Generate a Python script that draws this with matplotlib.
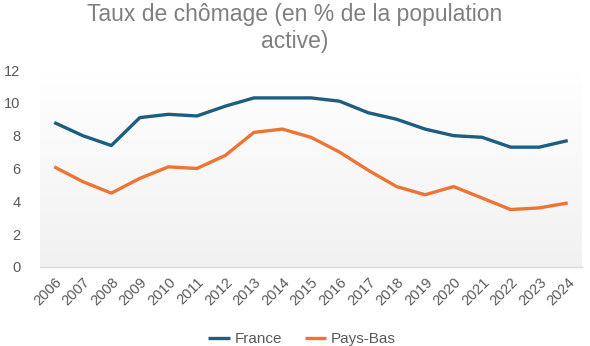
import matplotlib
matplotlib.use("Agg")
import matplotlib.pyplot as plt
import numpy as np
from matplotlib.colors import LinearSegmentedColormap

plt.rcParams['font.family'] = ['Liberation Sans', 'DejaVu Sans']

years = ["2006", "2007", "2008", "2009", "2010", "2011", "2012", "2013", "2014", "2015",
         "2016", "2017", "2018", "2019", "2020", "2021", "2022", "2023", "2024"]
france = [8.8, 8.0, 7.4, 9.1, 9.3, 9.2, 9.8, 10.3, 10.3, 10.3,
          10.1, 9.4, 9.0, 8.4, 8.0, 7.9, 7.3, 7.3, 7.7]
pays_bas = [6.1, 5.2, 4.5, 5.4, 6.1, 6.0, 6.8, 8.2, 8.4, 7.9,
            7.0, 5.9, 4.9, 4.4, 4.9, 4.2, 3.5, 3.6, 3.9]

fig = plt.figure(figsize=(5.9, 3.46), dpi=100)
ax = fig.add_axes([40/590, 1-267/346, 542/590, (267-70)/346])

# gradient background
grad = np.linspace(0, 1, 256).reshape(-1, 1)
cmap = LinearSegmentedColormap.from_list("g", ["#f1f1f1", "#ffffff"])
ax.imshow(grad, aspect='auto', cmap=cmap, extent=[0, 1, 0, 1], transform=ax.transAxes,
          origin='lower', zorder=0)

x = np.arange(len(years))
ax.plot(x, france, color="#1b5e80", lw=2.4, label="France", zorder=3, solid_capstyle='butt')
ax.plot(x, pays_bas, color="#ee7433", lw=2.4, label="Pays-Bas", zorder=3, solid_capstyle='butt')

ax.set_xlim(-0.5, len(years) - 0.5)
ax.set_ylim(0, 12)
ax.set_yticks([0, 2, 4, 6, 8, 10, 12])
ax.set_xticks(x)
ax.set_xticklabels(years, rotation=45, ha='right', rotation_mode='anchor')
ax.tick_params(axis='both', length=0, colors='#595959', labelsize=10.5)
ax.tick_params(axis='y', pad=14)
ax.tick_params(axis='x', pad=6)
for s in ['top', 'right', 'left']:
    ax.spines[s].set_visible(False)
ax.spines['bottom'].set_color('#d9d9d9')
ax.spines['bottom'].set_linewidth(1.0)

fig.text(0.5, 0.99, "Taux de chômage (en % de la population\nactive)", ha='center', va='top',
         fontsize=16.5, color='#7f7f7f', linespacing=1.2)

leg = fig.legend(loc='lower center', bbox_to_anchor=(0.512, -0.04), ncol=2, frameon=False,
                 fontsize=11, handlelength=1.4, handletextpad=0.3, columnspacing=1.5)
for t in leg.get_texts():
    t.set_color('#595959')

fig.savefig("out.png", dpi=100)
